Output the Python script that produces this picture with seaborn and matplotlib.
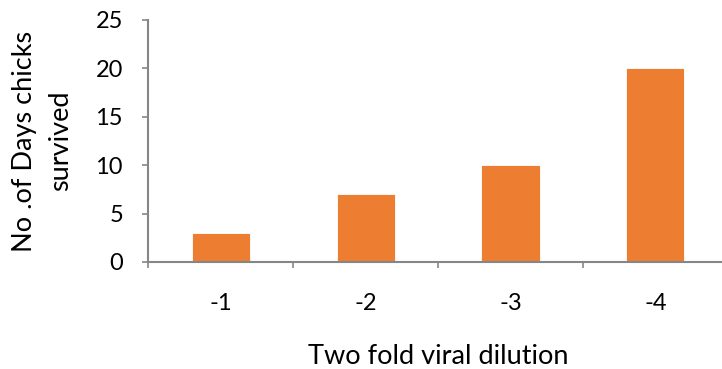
import matplotlib
matplotlib.use("Agg")
import matplotlib.pyplot as plt
import seaborn as sns
import pandas as pd
import numpy as np

# Survival of chicks at each viral dilution
dilutions = ["-1", "-2", "-3", "-4"]
days_survived = [3, 7, 10, 20]
y_ticks = [0, 5, 10, 15, 20, 25]

sns.set_theme(style="white")
plt.rcParams["font.family"] = ["Lato", "DejaVu Sans"]

bar_color = "#ED7D31"
axis_color = "#868686"

df = pd.DataFrame({"dilution": dilutions, "days": days_survived})

fig = plt.figure(figsize=(7.22, 3.69), dpi=100)
W, H = 722, 369
ax = fig.add_axes([148 / W, 1 - 262 / H, 580 / W, 242 / H])

sns.barplot(data=df, x="dilution", y="days", color=bar_color, width=0.4,
            saturation=1, edgecolor="white", linewidth=0.6, ax=ax)

ax.set_ylim(0, 25)
ax.set_yticks(y_ticks)
ax.set_xlim(-0.5, -0.5 + 574 / 145)

for side in ["top", "right"]:
    ax.spines[side].set_visible(False)
for side in ["left", "bottom"]:
    ax.spines[side].set_color(axis_color)
    ax.spines[side].set_linewidth(1.5)

# tick marks sit between categories, labels at category centres
n = len(dilutions)
ax.set_xticks(np.arange(-0.5, n, 1.0), minor=True)
ax.tick_params(axis="x", which="minor", direction="out", length=4,
               width=1.2, color=axis_color, bottom=True)
ax.tick_params(axis="x", which="major", length=0, pad=22, labelsize=17,
               labelcolor="black")
ax.tick_params(axis="y", which="major", direction="out", length=4,
               width=1.2, color=axis_color, left=True, pad=14,
               labelsize=17, labelcolor="black")

ax.set_xlabel("Two fold viral dilution", fontsize=19.5, labelpad=22,
              color="black")
ax.set_ylabel("No .of Days chicks\nsurvived", fontsize=19.5, labelpad=16,
              color="black", linespacing=1.55)

fig.savefig("out.png", dpi=100)
